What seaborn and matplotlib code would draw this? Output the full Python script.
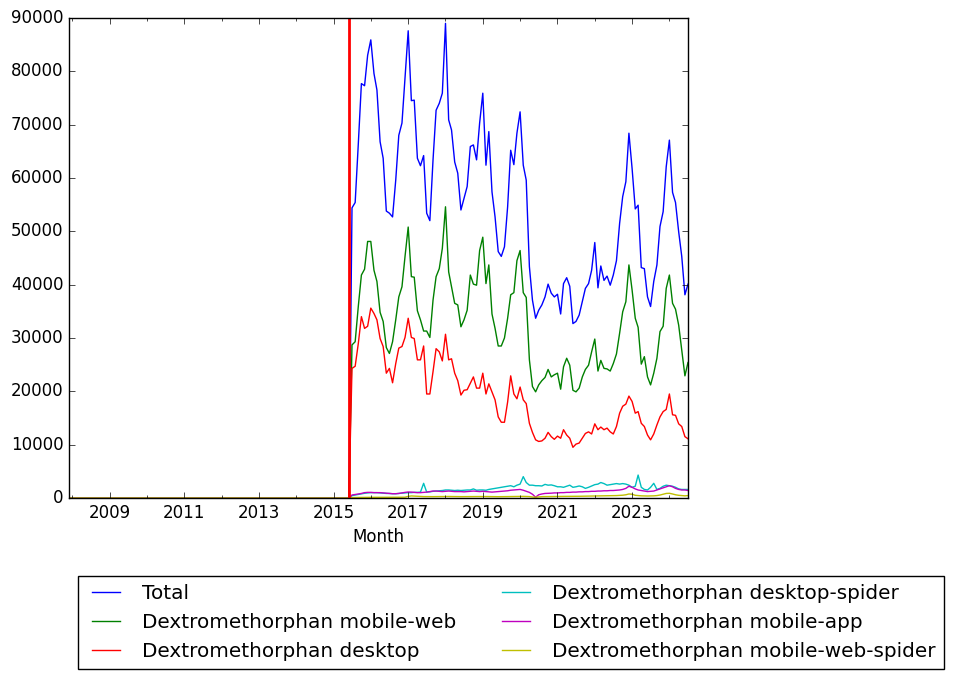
import matplotlib
matplotlib.use('Agg')
import matplotlib.pyplot as plt
import matplotlib.dates as mdates
import pandas as pd
import seaborn as sns

plt.style.use('classic')

# monthly values from 2015-07 to 2024-07 (everything before is zero)
first_month = '2015-07-01'
months = pd.date_range('2007-12-01', '2024-07-01', freq='MS')
cutover = pd.Timestamp('2015-06-01')

total = [54400, 55400, 66500, 77700, 77300, 83000,
         85900, 79600, 76500, 66800, 63700, 53800, 53400, 52700, 59600, 68000, 70300, 78700,
         87600, 74500, 74600, 63700, 62300, 64200, 53400, 52000, 63400, 72700, 74000, 75900,
         89000, 70900, 69000, 63000, 60900, 54000, 56200, 58400, 65900, 66200, 63400, 70300,
         75900, 62400, 68700, 57400, 52700, 46200, 45300, 47100, 54600, 65200, 62500, 68400,
         72400, 62400, 59600, 43400, 37100, 33700, 35200, 36200, 37700, 40100, 38400, 37700,
         38200, 34500, 40200, 41300, 39700, 32700, 33100, 34300, 36800, 39300, 40200, 42700,
         47900, 39400, 43500, 40800, 41600, 39900, 41800, 44500, 51500, 56500, 59300, 68400,
         61800, 54200, 54900, 43200, 43000, 37700, 35900, 40600, 43700, 50900, 53700, 62100,
         67100, 57300, 55400, 49900, 45300, 38100, 40100]

mobile_web = [28700, 29300, 36000, 41800, 42900, 48100,
              48100, 42700, 40600, 34800, 33100, 28200, 27100, 29300, 33400, 37700, 39600, 45300,
              50800, 41500, 41400, 35100, 33400, 31300, 31300, 30100, 37100, 41500, 43000, 46800,
              54600, 42400, 39600, 36500, 36200, 32100, 33400, 35200, 41800, 40100, 39900, 46400,
              48900, 40200, 43700, 34500, 31800, 28500, 28500, 30000, 33700, 38100, 38500, 44500,
              46400, 38500, 37600, 25900, 20900, 19900, 21200, 22000, 22600, 24100, 22700, 23100,
              23400, 20400, 24600, 26200, 24900, 20200, 19900, 20600, 22700, 24100, 24900, 27400,
              29800, 23800, 25800, 24300, 24200, 23800, 25200, 27000, 30900, 34900, 36800, 43700,
              39000, 33700, 32000, 25100, 26500, 22700, 21200, 23400, 26200, 31200, 32200, 39300,
              41800, 36500, 35400, 32400, 27700, 22900, 25400]

desktop = [24300, 24700, 29000, 34000, 31800, 32200,
           35600, 34600, 33400, 29900, 28400, 23400, 24300, 21600, 25200, 28100, 28400, 30100,
           33700, 30100, 29900, 25900, 25900, 28500, 19500, 19500, 23700, 28000, 27400, 25700,
           30700, 25900, 26100, 23400, 22000, 19300, 20200, 20300, 21500, 22700, 20600, 20600,
           23400, 19500, 21400, 19900, 18400, 15200, 14200, 14200, 18000, 22900, 19500, 18600,
           20800, 18400, 17700, 14000, 12300, 10900, 10600, 10700, 11200, 12300, 11500, 11000,
           11600, 11200, 12800, 11800, 11200, 9500, 10100, 10300, 11200, 12100, 12400, 12000,
           13900, 12800, 13300, 12800, 13100, 12400, 12000, 13400, 15900, 17200, 17600, 19100,
           18100, 15900, 16200, 14000, 13400, 11800, 10900, 12000, 13700, 15200, 16200, 16600,
           19500, 15600, 15500, 13900, 13400, 11500, 11100]

desktop_spider = [440, 550, 650, 750, 880, 950,
                  1000, 1000, 1000, 950, 900, 850, 850, 800, 800, 850, 900, 950,
                  1000, 1000, 1050, 1050, 1100, 2750, 1100, 1150, 1250, 1300, 1350, 1400,
                  1500, 1500, 1450, 1400, 1450, 1400, 1450, 1500, 1500, 1700, 1450, 1500,
                  1500, 1450, 1600, 1700, 1800, 1900, 2000, 2100, 2200, 2300, 2100, 2400,
                  2600, 4000, 2900, 2400, 2400, 2300, 2300, 2250, 2550, 2400, 2450, 2300,
                  2100, 2100, 2000, 2200, 2400, 2000, 2100, 2250, 2100, 1800, 2000, 2250,
                  2500, 2600, 2900, 2700, 2400, 2500, 2600, 2700, 2600, 2700, 2600, 2400,
                  2000, 2200, 4300, 2000, 1600, 1500, 2000, 2750, 1600, 1800, 2200, 2400,
                  2300, 2200, 2000, 1700, 1600, 1600, 1600]

mobile_app = [560, 650, 750, 850, 1000, 1050,
              1050, 1000, 1000, 1000, 950, 900, 850, 800, 800, 850, 950, 1050,
              1120, 1100, 1050, 1000, 1000, 1050, 1100, 1200, 1300, 1300, 1250, 1200,
              1250, 1300, 1250, 1200, 1200, 1200, 1150, 1200, 1250, 1300, 1250, 1200,
              1250, 1200, 1150, 1100, 1150, 1200, 1250, 1300, 1350, 1450, 1500, 1550,
              1600, 1450, 1250, 1050, 700, 150, 600, 750, 850, 875, 900, 950,
              950, 1000, 1000, 1050, 1050, 1100, 1100, 1150, 1150, 1200, 1200, 1250,
              1250, 1300, 1300, 1350, 1350, 1400, 1400, 1450, 1500, 1600, 1800, 2200,
              2000, 1700, 1500, 1400, 1300, 1200, 1250, 1300, 1500, 1700, 1900, 2100,
              2300, 2100, 1800, 1600, 1500, 1500, 1400]

mobile_web_spider = [80, 90, 100, 100, 110, 110,
                     120, 120, 120, 120, 120, 120, 120, 120, 130, 130, 140, 150,
                     300, 380, 350, 300, 280, 260, 250, 250, 250, 250, 260, 270,
                     280, 280, 270, 260, 260, 250, 250, 250, 250, 260, 260, 270,
                     280, 270, 260, 250, 250, 240, 240, 250, 260, 270, 280, 300,
                     320, 300, 280, 260, 200, 120, 200, 250, 260, 270, 280, 290,
                     300, 300, 300, 300, 300, 300, 300, 320, 330, 340, 350, 360,
                     380, 380, 390, 400, 400, 420, 430, 450, 480, 520, 600, 750,
                     700, 500, 450, 400, 380, 370, 380, 400, 450, 550, 700, 850,
                     880, 750, 600, 500, 450, 400, 450]

series_names = ['Total', 'Dextromethorphan mobile-web', 'Dextromethorphan desktop',
                'Dextromethorphan desktop-spider', 'Dextromethorphan mobile-app',
                'Dextromethorphan mobile-web-spider']
series_values = [total, mobile_web, desktop, desktop_spider, mobile_app, mobile_web_spider]
colors = ['b', 'g', 'r', 'c', 'm', 'y']

tick_years = [2009, 2011, 2013, 2015, 2017, 2019, 2021, 2023]

fig, ax = plt.subplots(figsize=(9.55, 6.79), dpi=100)
fig.patch.set_facecolor('white')
fig.subplots_adjust(left=0.0723, right=0.7204, top=0.9735, bottom=0.2666)

for name, vals, color in zip(series_names, series_values, colors):
    s = pd.Series(vals, index=pd.date_range(first_month, periods=len(vals), freq='MS'))
    s = s.reindex(months, fill_value=0)
    sns.lineplot(x=s.index, y=s.values, ax=ax, color=color, label=name,
                 linewidth=1, legend=False)

ax.axvline(cutover, color='r', linewidth=2)

ax.set_xlim(months[0], months[-1])
ax.set_ylim(0, 90000)
ax.set_xticks(pd.to_datetime([f'{y}-01-01' for y in tick_years]),
              [str(y) for y in tick_years])
ax.xaxis.set_minor_locator(mdates.YearLocator(1))
ax.set_xlabel('Month')
ax.set_ylabel('')

handles, labels = ax.get_legend_handles_labels()
fig.legend(handles, labels, loc='upper left', bbox_to_anchor=(78 / 955, 1 - 576 / 679),
           ncol=2, borderaxespad=0, fontsize='large')

fig.savefig('out.png', dpi=100, facecolor='white')
